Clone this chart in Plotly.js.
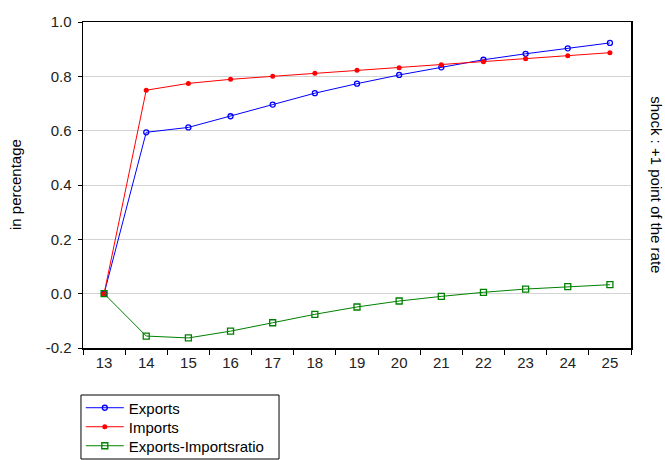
<!DOCTYPE html>
<html><head><meta charset="utf-8">
<script src="https://cdn.plot.ly/plotly-3.0.1.min.js"></script>
<style>body{margin:0;background:#fff}#c{width:665px;height:460px}</style>
</head><body><div id="c"></div>
<script>
const periods = ["13","14","15","16","17","18","19","20","21","22","23","24","25"];
const exportsVals = [0.000,0.594,0.612,0.653,0.696,0.738,0.773,0.805,0.833,0.861,0.883,0.903,0.923];
const importsVals = [0.000,0.749,0.774,0.789,0.800,0.811,0.822,0.832,0.843,0.854,0.865,0.876,0.887];
const ratioVals = [0.000,-0.156,-0.163,-0.138,-0.107,-0.076,-0.049,-0.027,-0.010,0.005,0.017,0.026,0.033];
const yTicks = [-0.2,0.0,0.2,0.4,0.6,0.8,1.0];
const yTickText = ["-0.2","0.0","0.2","0.4","0.6","0.8","1.0"];

const traces = [
 {x:periods,y:exportsVals,name:"Exports",type:"scatter",mode:"lines+markers",legend:"legend",
  line:{color:"#0000ff",width:1},marker:{symbol:"circle-open",size:5,color:"#0000ff",line:{width:1.3}}},
 {x:periods,y:importsVals,name:"Imports",type:"scatter",mode:"lines+markers",legend:"legend2",
  line:{color:"#ff0000",width:1},marker:{symbol:"circle",size:5,color:"#ff0000"}},
 {x:periods,y:ratioVals,name:"Exports-Importsratio",type:"scatter",mode:"lines+markers",legend:"legend3",
  line:{color:"#008000",width:1},marker:{symbol:"square-open",size:6,color:"#008000",line:{width:1.3}}}
];
const legBase = {x:-0.004,xanchor:"left",yanchor:"middle",borderwidth:0,bgcolor:"rgba(0,0,0,0)",
   font:{size:15,color:"#000"},itemwidth:38};
const layout = {
 width:665,height:460,
 margin:{l:83,r:34,t:22,b:112,autoexpand:false},
 paper_bgcolor:"#fff",plot_bgcolor:"#fff",
 font:{family:"Liberation Sans, Arial, sans-serif",size:14,color:"#000"},
 showlegend:true,
 legend:Object.assign({},legBase,{y:-0.184}),
 legend2:Object.assign({},legBase,{y:-0.2423}),
 legend3:Object.assign({},legBase,{y:-0.3006}),
 shapes:[{type:"rect",xref:"paper",yref:"paper",x0:-0.0037,x1:0.3577,y0:-0.3405,y1:-0.1442,
   line:{color:"#000",width:1},fillcolor:"rgba(0,0,0,0)",layer:"below"}],
 xaxis:{type:"category",tickson:"boundaries",ticks:"outside",ticklen:5,tickcolor:"#000",
   showgrid:false,zeroline:false,showline:true,linecolor:"#000",linewidth:1.5,mirror:true,
   range:[-0.5,12.5],tickfont:{size:15,color:"#222"}},
 yaxis:{range:[-0.2,1.0],tickvals:yTicks,ticktext:yTickText,ticks:"outside",ticklen:4,tickcolor:"#000",
   showgrid:true,gridcolor:"#d3d3d3",gridwidth:1,zeroline:false,showline:true,linecolor:"#000",linewidth:1.5,mirror:true,
   ticklabelstandoff:3,tickfont:{size:15,color:"#222"}},
 annotations:[
  {text:"in percentage",xref:"paper",yref:"paper",x:-0.124,y:0.5,textangle:-90,showarrow:false,
   xanchor:"center",yanchor:"middle",font:{size:15,color:"#000"}},
  {text:"shock : +1 point of the rate",xref:"paper",yref:"paper",x:1.047,y:0.5,textangle:90,showarrow:false,
   xanchor:"center",yanchor:"middle",font:{size:15,color:"#000"}}
 ]
};
Plotly.newPlot("c",traces,layout,{displayModeBar:false,staticPlot:true});
</script></body></html>
